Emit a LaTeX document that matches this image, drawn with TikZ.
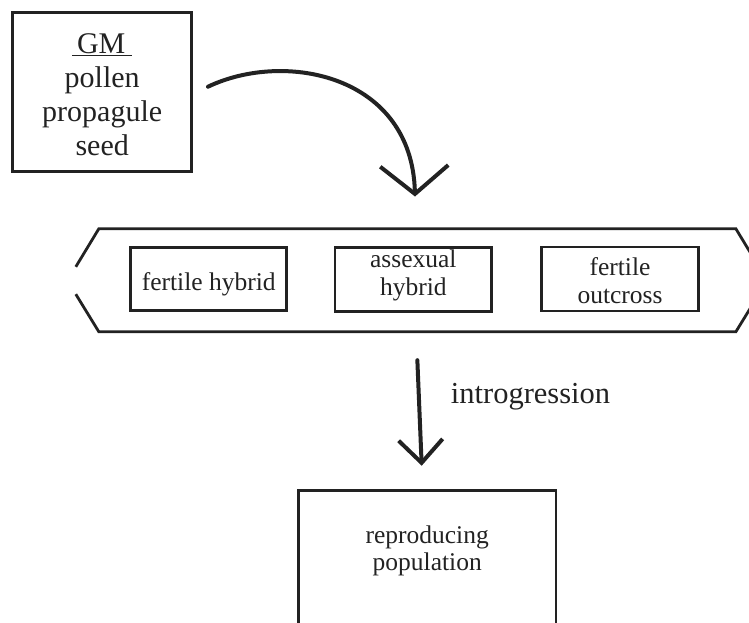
\documentclass[tikz,border=0pt]{standalone}
\usepackage{fontspec}
\setmainfont{Liberation Serif}
\usetikzlibrary{arrows.meta}
\definecolor{ink}{HTML}{222222}
\begin{document}
\begin{tikzpicture}[x=1pt,y=-1pt,
  box/.style={draw=ink, line width=2.6pt, inner sep=0pt, text=ink},
  hexline/.style={draw=ink, line width=2.8pt, line join=miter},
  arr/.style={draw=ink, line width=4pt, line cap=round, line join=round},
  small/.style={font=\fontsize{25.5}{28}\selectfont},
]
\useasboundingbox (0,0) rectangle (749,622);
\clip (0,0) rectangle (749,622);

\node[box, minimum width=179pt, minimum height=159pt, text height=0pt, text depth=77.8pt,
  font=\fontsize{30}{33.9}\selectfont] (gm) at (102.2,92.2)
  {\begin{tabular}[t]{@{}c@{}}\underline{\hspace{5pt}GM\hspace{7pt}}\\pollen\\propagule\\seed\end{tabular}};

\node[minimum width=636.7pt, minimum height=102.5pt, inner sep=0pt] (hex) at (417.35,280.25) {};
\draw[hexline] ([xshift=-23pt,yshift=-38pt]hex.north west) -- (hex.north west) -- (hex.north east) -- ([xshift=23pt,yshift=-38pt]hex.north east);
\draw[hexline] ([xshift=-23pt,yshift=37.5pt]hex.south west) -- (hex.south west) -- (hex.south east) -- ([xshift=23pt,yshift=37.5pt]hex.south east);

\node[box, small, minimum width=156pt, minimum height=63.4pt, text height=22pt, text depth=0pt] (fh) at (208.7,279) {fertile hybrid};
\node[box, small, minimum width=156.7pt, minimum height=64pt, text height=0pt, text depth=24.4pt] (ah) at (413.3,279.5)
  {\begin{tabular}[t]{@{}c@{}}assexual\\hybrid\end{tabular}};
\node[box, small, minimum width=156.6pt, minimum height=63.7pt, text height=0pt, text depth=8pt] (fo) at (620,279)
  {\begin{tabular}[t]{@{}c@{}}fertile\\outcross\end{tabular}};

\node[box, font=\fontsize{25.5}{27}\selectfont, minimum width=257.7pt, minimum height=149.3pt, text height=0pt, text depth=44.7pt] (pop) at (427.2,565.35)
  {\begin{tabular}[t]{@{}c@{}}reproducing\\population\end{tabular}};

\draw[arr, -{Straight Barb[length=28pt,width=68pt]}] ([xshift=15pt,yshift=5.5pt]gm.east) .. controls (285,50) and (412,75) .. ([xshift=-2.35pt,yshift=32.3pt]hex.north);

\draw[arr, -{Straight Barb[length=23pt,width=44pt]}] ([yshift=-28.5pt]hex.south) -- ([xshift=-5.5pt,yshift=23.7pt]pop.north);

\node[anchor=base west, text=ink, font=\fontsize{30.5}{34}\selectfont, inner sep=0pt] (intro) at (450.7,403) {introgression};
\end{tikzpicture}
\end{document}
